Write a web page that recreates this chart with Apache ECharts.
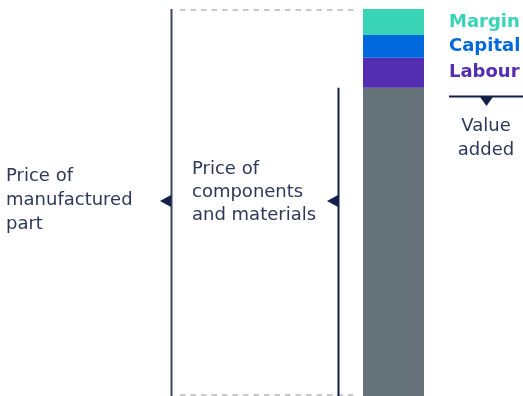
<!DOCTYPE html>
<html>
<head>
<meta charset="utf-8">
<script src="https://cdn.jsdelivr.net/npm/echarts@6/dist/echarts.min.js"></script>
<style>
  html, body { margin: 0; padding: 0; background: #fff; }
  #chart { width: 523px; height: 396px; }
</style>
</head>
<body>
<div id="chart"></div>
<script>
// one bar, stacked from bottom to top
const categories = ['Manufactured part']
const segNames = ['Components and materials', 'Labour', 'Capital', 'Margin']
const segValues = [79.8, 7.8, 5.9, 6.7]
const segColors = ['#66737b', '#532eb0', '#0068dd', '#38d4b5']
const showLabel = [false, true, true, true]

const leftLabel = ['Price of', 'manufactured', 'part']
const midLabel = ['Price of', 'components', 'and materials']
const valueAddedLabel = ['Value', 'added']

const total = segValues.reduce((a, b) => a + b, 0)
const font = '"DejaVu Sans", sans-serif'
const navy = '#15204a'
const textColor = '#2e3858'

const chart = echarts.init(document.getElementById('chart'))

chart.setOption({
  animation: false,
  grid: { left: 363, width: 61, top: 9, bottom: 0 },
  xAxis: { type: 'category', data: categories, show: false },
  yAxis: { type: 'value', min: 0, max: total, show: false },
  series: segNames.map((name, i) => ({
    name: name,
    type: 'bar',
    stack: 'price',
    barWidth: '100%',
    data: [segValues[i]],
    itemStyle: { color: segColors[i] },
    label: {
      show: showLabel[i],
      position: 'right',
      distance: 25,
      formatter: name,
      color: segColors[i],
      fontFamily: font,
      fontWeight: 'bold',
      fontSize: 18
    }
  }))
})

// annotation lines / arrows, placed from the axis scale
const yTop = chart.convertToPixel({ yAxisIndex: 0 }, total)
const yBase = chart.convertToPixel({ yAxisIndex: 0 }, 0)
const yComp = chart.convertToPixel({ yAxisIndex: 0 }, segValues[0])
const yMid = 201

function textBlock(lines, x, yc, lh, align) {
  return lines.map((t, i) => ({
    type: 'text',
    x: x,
    y: yc + (i - (lines.length - 1) / 2) * lh,
    style: {
      text: t, fill: textColor, font: '18px ' + font,
      textAlign: align, textVerticalAlign: 'middle'
    }
  }))
}

const dash = { stroke: '#c9c9c9', lineWidth: 2, lineDash: [5.5, 5] }

const g = [
  // dashed guides top and bottom
  { type: 'line', shape: { x1: 180, y1: yTop + 1, x2: 357, y2: yTop + 1 }, style: dash },
  { type: 'line', shape: { x1: 180, y1: yBase - 1, x2: 357, y2: yBase - 1 }, style: dash },
  // full price bracket
  { type: 'line', shape: { x1: 171.5, y1: yTop, x2: 171.5, y2: yBase },
    style: { stroke: '#3b4666', lineWidth: 2 } },
  { type: 'polygon', shape: { points: [[160, yMid], [171, yMid - 6], [171, yMid + 6]] },
    style: { fill: navy } },
  // components bracket
  { type: 'line', shape: { x1: 338.5, y1: yComp, x2: 338.5, y2: yBase },
    style: { stroke: navy, lineWidth: 2 } },
  { type: 'polygon', shape: { points: [[327, yMid], [338, yMid - 6], [338, yMid + 6]] },
    style: { fill: navy } },
  // value added marker
  { type: 'line', shape: { x1: 449, y1: 96.5, x2: 523, y2: 96.5 },
    style: { stroke: navy, lineWidth: 2 } },
  { type: 'polygon', shape: { points: [[480, 97], [493, 97], [486.5, 106]] },
    style: { fill: navy } }
]
  .concat(textBlock(leftLabel, 6, 200, 24, 'left'))
  .concat(textBlock(midLabel, 192, 192, 23, 'left'))
  .concat(textBlock(valueAddedLabel, 486, 138, 24, 'center'))

chart.setOption({ graphic: { elements: g } })
</script>
</body>
</html>
